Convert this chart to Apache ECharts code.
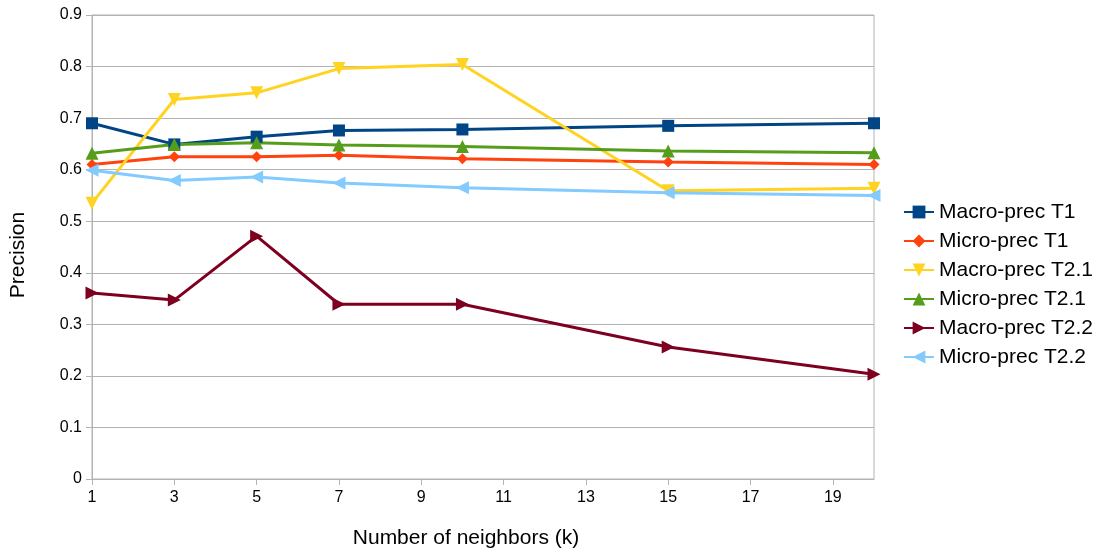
<!DOCTYPE html>
<html>
<head>
<meta charset="utf-8">
<title>Precision vs number of neighbors</title>
<script src="https://cdn.jsdelivr.net/npm/echarts@6/dist/echarts.min.js"></script>
<style>
  html, body { margin: 0; padding: 0; background: #fff; }
  #chart { width: 1096px; height: 548px; }
</style>
</head>
<body>
<div id="chart"></div>
<script>
// k values where the runs were measured
const kValues = [1, 3, 5, 7, 10, 15, 20];
const xTicks = [1, 3, 5, 7, 9, 11, 13, 15, 17, 19];

const macroT1  = [0.690, 0.649, 0.664, 0.676, 0.678, 0.685, 0.690];
const microT1  = [0.610, 0.625, 0.625, 0.628, 0.621, 0.615, 0.610];
const macroT21 = [0.535, 0.736, 0.749, 0.796, 0.804, 0.559, 0.564];
const microT21 = [0.632, 0.649, 0.652, 0.648, 0.645, 0.636, 0.633];
const macroT22 = [0.361, 0.347, 0.471, 0.339, 0.339, 0.256, 0.203];
const microT22 = [0.599, 0.579, 0.586, 0.574, 0.565, 0.555, 0.550];

const seriesDefs = [
  { name: 'Macro-prec T1',  values: macroT1,  color: '#004586', symbol: 'rect',     size: 12, rotate: 0 },
  { name: 'Micro-prec T1',  values: microT1,  color: '#ff420e', symbol: 'diamond',  size: 11, rotate: 0 },
  { name: 'Macro-prec T2.1', values: macroT21, color: '#ffd320', symbol: 'triangle', size: 13, rotate: 180 },
  { name: 'Micro-prec T2.1', values: microT21, color: '#579d1c', symbol: 'triangle', size: 13, rotate: 0 },
  { name: 'Macro-prec T2.2', values: macroT22, color: '#7e0021', symbol: 'triangle', size: 13, rotate: -90 },
  { name: 'Micro-prec T2.2', values: microT22, color: '#83caff', symbol: 'triangle', size: 13, rotate: 90 }
];

const font = "'Liberation Sans', Arial, sans-serif";
const chart = echarts.init(document.getElementById('chart'));

const option = {
  animation: false,
  textStyle: { fontFamily: font },
  grid: {
    left: 92, right: 222, top: 15, bottom: 69,
    outerBoundsMode: 'none',
    show: true, borderColor: '#b3b3b3', borderWidth: 1
  },
  legend: {
    orient: 'vertical',
    left: 903,
    top: 201,
    padding: 0,
    itemWidth: 30,
    itemHeight: 16,
    itemGap: 7,
    textStyle: { fontSize: 21, color: '#000', fontFamily: font, lineHeight: 22 }
  },
  xAxis: {
    type: 'value',
    min: 1,
    max: 20,
    name: 'Number of neighbors (k)',
    nameLocation: 'middle',
    nameGap: 49,
    nameTextStyle: { fontSize: 21, color: '#000', fontFamily: font, padding: [0, 34, 0, 0] },
    axisLine: { show: true, lineStyle: { color: '#b3b3b3' } },
    axisTick: { show: true, customValues: xTicks, length: 6, lineStyle: { color: '#b3b3b3' } },
    axisLabel: { customValues: xTicks, fontSize: 16, color: '#000', margin: 11 },
    splitLine: { show: false }
  },
  yAxis: {
    type: 'value',
    min: 0,
    max: 0.9,
    interval: 0.1,
    name: 'Precision',
    nameLocation: 'middle',
    nameGap: 63,
    nameTextStyle: { fontSize: 21, color: '#000', fontFamily: font, padding: [0, 16, 0, 0] },
    axisLine: { show: true, lineStyle: { color: '#b3b3b3' } },
    axisTick: { show: true, length: 6, lineStyle: { color: '#b3b3b3' } },
    axisLabel: { fontSize: 16, color: '#000', margin: 10 },
    splitLine: { show: true, lineStyle: { color: '#b3b3b3' } }
  },
  series: seriesDefs.map(s => ({
    name: s.name,
    type: 'line',
    data: kValues.map((k, i) => [k, s.values[i]]),
    symbol: s.symbol,
    symbolSize: s.size,
    symbolRotate: s.rotate,
    showAllSymbol: true,
    color: s.color,
    lineStyle: { width: 3, color: s.color },
    itemStyle: { color: s.color }
  }))
};

chart.setOption(option);
</script>
</body>
</html>
